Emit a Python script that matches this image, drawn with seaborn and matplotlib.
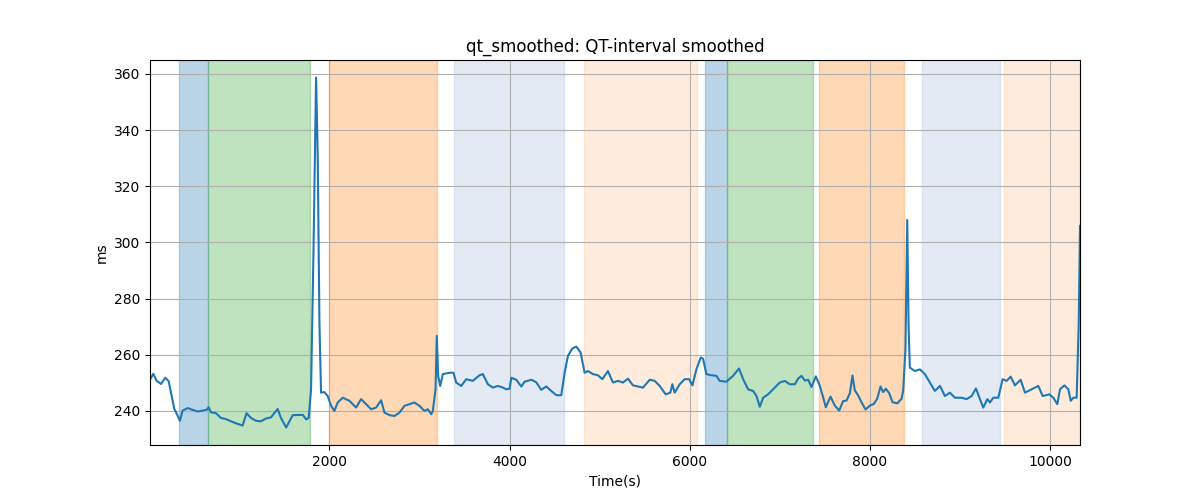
#!/usr/bin/env python3
# -*- coding: utf-8 -*-
"""QT-interval smoothed, with the phase spans shaded behind."""

import pandas as pd
import matplotlib
matplotlib.use('Agg')
import matplotlib.pyplot as plt
import seaborn as sns

# time (s) and smoothed QT (ms)
times = [
    8, 44, 81, 130, 178, 215, 240, 278, 315, 340, 370, 425, 481, 537, 592, 636,
    659, 685, 740, 796, 851, 907, 962, 1036, 1080, 1129, 1184, 1240, 1295, 1351,
    1425, 1462, 1519, 1593, 1704, 1741, 1770, 1796, 1822, 1852, 1870, 1889, 1907,
    1944, 1981, 2019, 2055, 2092, 2148, 2222, 2296, 2352, 2407, 2463, 2519, 2574,
    2611, 2667, 2722, 2778, 2833, 2889, 2944, 3000, 3055, 3092, 3130, 3148, 3178,
    3192, 3207, 3230, 3259, 3333, 3378, 3407, 3463, 3519, 3592, 3667, 3704, 3759,
    3815, 3870, 3926, 3963, 4000, 4019, 4074, 4130, 4167, 4241, 4296, 4352, 4407,
    4463, 4519, 4574, 4611, 4648, 4696, 4741, 4789, 4833, 4870, 4926, 4981, 5030,
    5092, 5148, 5204, 5259, 5315, 5370, 5426, 5481, 5556, 5611, 5667, 5733, 5785,
    5807, 5833, 5889, 5944, 5993, 6030, 6074, 6122, 6148, 6185, 6241, 6296, 6333,
    6407, 6481, 6548, 6593, 6648, 6704, 6741, 6778, 6815, 6870, 6926, 7000, 7055,
    7111, 7167, 7204, 7241, 7278, 7315, 7352, 7400, 7444, 7481, 7511, 7563, 7611,
    7659, 7703, 7741, 7778, 7807, 7833, 7870, 7907, 7952, 8000, 8044, 8081, 8119,
    8148, 8178, 8215, 8252, 8304, 8352, 8370, 8395, 8415, 8430, 8444, 8500, 8556,
    8611, 8667, 8722, 8778, 8833, 8889, 8944, 9019, 9074, 9130, 9178, 9222, 9259,
    9304, 9333, 9370, 9426, 9474, 9519, 9563, 9611, 9674, 9722, 9796, 9870, 9919,
    9993, 10037, 10081, 10111, 10159, 10204, 10230, 10259, 10296, 10319, 10333,
]
qt_ms = [
    251.1, 253.2, 250.8, 249.6, 251.8, 250.6, 246.7, 240.7, 238.3, 236.5, 240.1,
    241.0, 240.4, 239.8, 240.1, 240.4, 241.3, 239.5, 239.2, 237.5, 237.1, 236.3,
    235.6, 234.8, 239.2, 237.5, 236.5, 236.3, 237.3, 237.7, 240.7, 237.5, 234.1,
    238.5, 238.6, 237.0, 237.5, 247.7, 295.0, 358.7, 330.8, 271.4, 246.5, 246.7,
    245.3, 241.8, 240.0, 243.0, 244.7, 243.6, 241.2, 244.2, 242.4, 240.6, 241.2,
    243.8, 239.4, 238.5, 238.2, 239.4, 241.8, 242.4, 243.0, 241.8, 240.0, 240.6,
    238.8, 240.0, 247.7, 266.7, 252.5, 248.9, 253.1, 253.6, 253.6, 250.1, 248.9,
    251.3, 250.7, 252.7, 253.1, 249.5, 248.3, 248.9, 248.3, 247.7, 247.9, 251.8,
    251.1, 248.7, 250.4, 251.1, 250.2, 247.5, 248.7, 247.1, 245.6, 245.6, 253.6,
    259.6, 262.2, 262.9, 260.8, 253.6, 254.2, 253.1, 252.7, 251.3, 254.2, 250.1,
    250.7, 250.1, 251.5, 249.1, 248.7, 248.3, 251.1, 250.7, 248.9, 245.9, 246.5,
    249.5, 246.5, 249.5, 251.3, 251.3, 249.1, 254.8, 259.0, 258.6, 253.1, 252.7,
    252.5, 250.7, 250.4, 252.5, 255.1, 251.3, 247.7, 247.1, 245.3, 241.5, 244.7,
    245.9, 247.7, 250.1, 250.7, 249.5, 249.5, 251.5, 252.5, 250.8, 251.1, 248.5,
    252.3, 249.0, 244.9, 241.3, 245.1, 241.9, 240.1, 243.5, 243.7, 246.3, 252.6,
    247.3, 245.5, 243.1, 240.5, 241.9, 242.5, 244.3, 248.7, 246.7, 247.9, 246.3,
    243.1, 242.7, 244.3, 247.3, 262.0, 308.0, 270.0, 255.4, 254.2, 254.8, 253.1,
    250.1, 247.1, 248.9, 245.3, 246.5, 244.7, 244.7, 244.2, 245.3, 248.0, 244.2,
    241.2, 244.2, 243.0, 244.7, 244.7, 251.3, 250.7, 252.2, 249.1, 251.1, 246.5,
    247.7, 248.9, 245.3, 245.9, 244.7, 242.4, 247.7, 249.1, 247.7, 243.6, 244.7,
    244.7, 271.4, 305.9,
]

# shaded phases: start, end, colour, alpha
span_start = [333, 656, 2000, 3378, 4822, 6167, 6411, 7433, 8578, 9489]
span_end = [656, 1780, 3189, 4600, 6078, 6411, 7374, 8374, 9444, 10333]
span_color = ['tab:blue', 'tab:green', 'tab:orange', 'lightsteelblue', 'tab:orange',
              'tab:blue', 'tab:green', 'tab:orange', 'lightsteelblue', 'tab:orange']
span_alpha = [0.3, 0.3, 0.3, 0.35, 0.15, 0.3, 0.3, 0.3, 0.35, 0.15]


def main():
    df = pd.DataFrame({'time': times, 'qt': qt_ms})

    fig, ax = plt.subplots(figsize=(12, 5), dpi=100)

    for s, e, c, a in zip(span_start, span_end, span_color, span_alpha):
        ax.axvspan(s, e, color=c, alpha=a)

    sns.lineplot(data=df, x='time', y='qt', ax=ax, color='tab:blue', linewidth=1.5)

    ax.set_xlim(df['time'].min(), df['time'].max())
    ax.set_title('qt_smoothed: QT-interval smoothed')
    ax.set_xlabel('Time(s)')
    ax.set_ylabel('ms')
    ax.grid(True)

    plt.savefig('out.png', dpi=100)


if __name__ == "__main__":
    main()
